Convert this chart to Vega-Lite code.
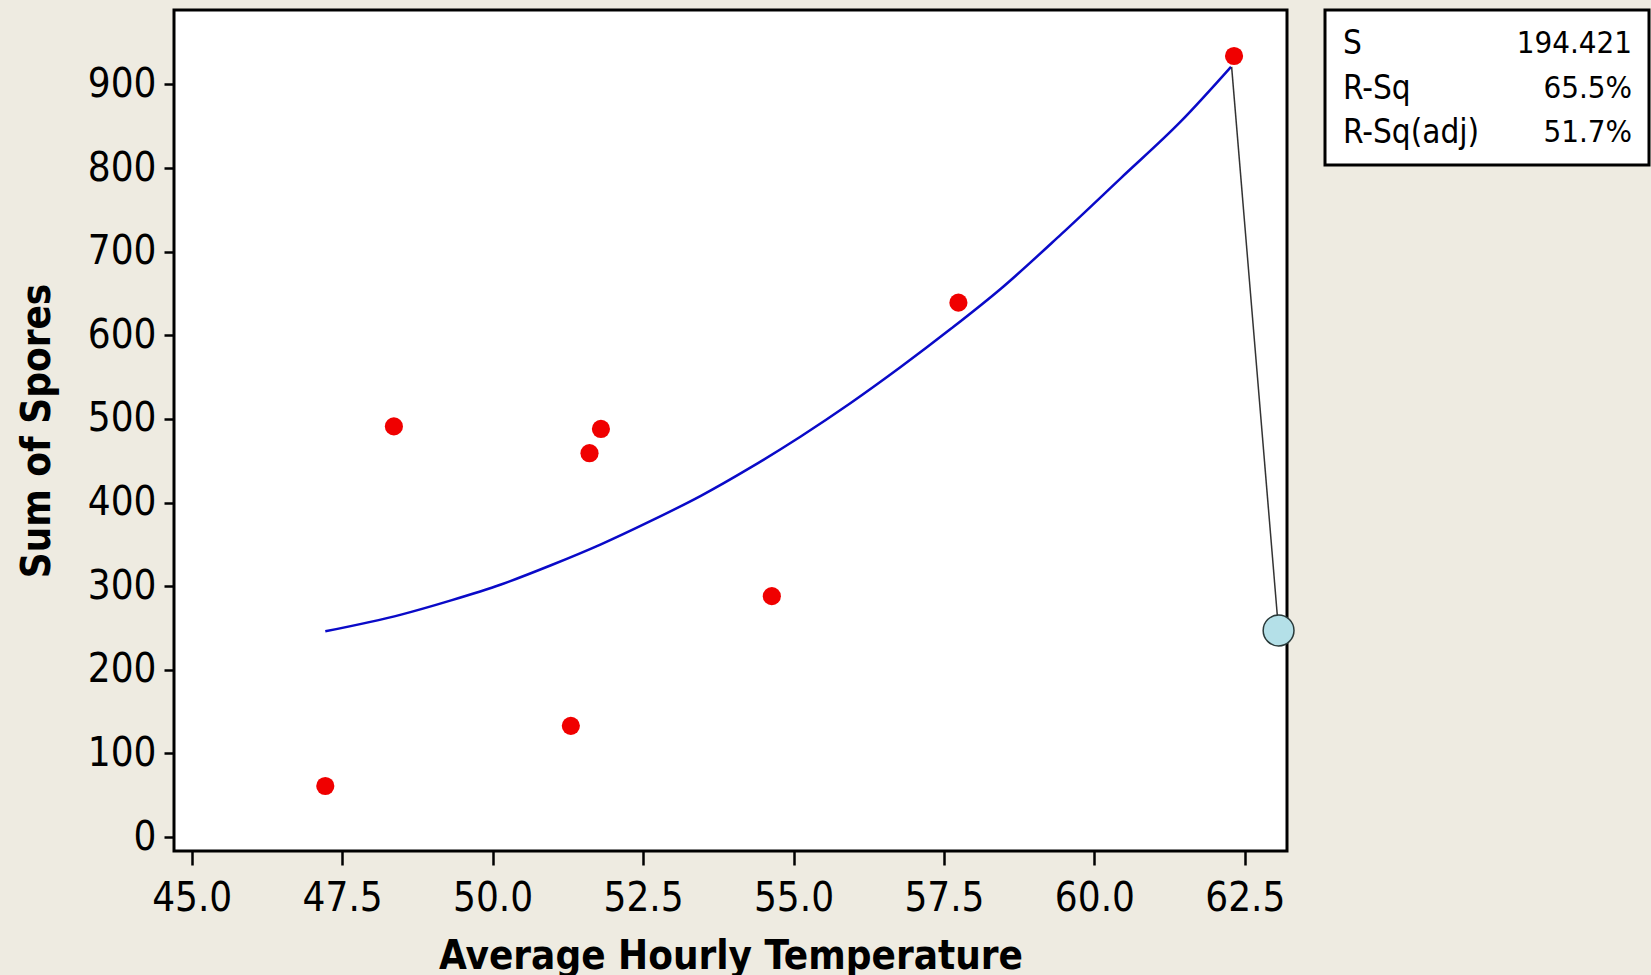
{
  "$schema": "https://vega.github.io/schema/vega-lite/v6.json",
  "background": "#eeebe1",
  "padding": {"left": 15, "top": 8, "right": 0, "bottom": 6},
  "spacing": 24,
  "config": {
    "view": {"fill": "white", "stroke": "black", "strokeWidth": 3},
    "font": "'DejaVu Sans Condensed', 'Liberation Sans Narrow', 'Liberation Sans', sans-serif"
  },
  "datasets": {
    "obs": [
      {"temp": 47.22, "spores": 61},
      {"temp": 48.36, "spores": 491},
      {"temp": 51.30, "spores": 133},
      {"temp": 51.61, "spores": 459},
      {"temp": 51.80, "spores": 488},
      {"temp": 54.64, "spores": 288},
      {"temp": 57.74, "spores": 639},
      {"temp": 62.32, "spores": 934}
    ],
    "fit": [
      {"temp": 47.22, "spores": 246},
      {"temp": 48.48, "spores": 266},
      {"temp": 49.31, "spores": 283},
      {"temp": 50.14, "spores": 302},
      {"temp": 50.97, "spores": 325},
      {"temp": 51.80, "spores": 350},
      {"temp": 52.63, "spores": 378},
      {"temp": 53.46, "spores": 408},
      {"temp": 54.29, "spores": 442},
      {"temp": 55.12, "spores": 479},
      {"temp": 55.95, "spores": 519},
      {"temp": 56.78, "spores": 562},
      {"temp": 57.62, "spores": 608},
      {"temp": 58.45, "spores": 656},
      {"temp": 59.45, "spores": 721},
      {"temp": 60.44, "spores": 788},
      {"temp": 61.44, "spores": 856},
      {"temp": 62.27, "spores": 921}
    ],
    "callout": [
      {"temp": 62.28, "spores": 921, "part": "leader"},
      {"temp": 63.06, "spores": 247, "part": "leader"}
    ],
    "marker": [
      {"temp": 63.06, "spores": 247}
    ],
    "stats": [
      {"stat": "S", "value": "194.421"},
      {"stat": "R-Sq", "value": "65.5%"},
      {"stat": "R-Sq(adj)", "value": "51.7%"}
    ]
  },
  "hconcat": [
    {
      "width": 1113,
      "height": 841,
      "encoding": {
        "x": {
          "field": "temp", "type": "quantitative",
          "scale": {"domain": [44.706, 63.2], "nice": false, "zero": false},
          "axis": {
            "title": "Average Hourly Temperature",
            "values": [45, 47.5, 50, 52.5, 55, 57.5, 60, 62.5],
            "format": ".1f",
            "domain": false, "grid": false,
            "tickSize": 14, "tickWidth": 2.5, "tickColor": "black",
            "labelFontSize": 40, "labelColor": "black", "labelPadding": 13,
            "titleFontSize": 40, "titleFontWeight": "bold", "titleColor": "black", "titlePadding": 18
          }
        },
        "y": {
          "field": "spores", "type": "quantitative",
          "scale": {"domain": [-16.7, 989], "nice": false, "zero": false},
          "axis": {
            "title": "Sum of Spores",
            "values": [0, 100, 200, 300, 400, 500, 600, 700, 800, 900],
            "domain": false, "grid": false,
            "tickSize": 10, "tickWidth": 2.5, "tickColor": "black",
            "labelFontSize": 40, "labelColor": "black", "labelPadding": 8,
            "titleFontSize": 40, "titleFontWeight": "bold", "titleColor": "black", "titlePadding": 30
          }
        }
      },
      "layer": [
        {
          "data": {"name": "fit"},
          "mark": {"type": "line", "color": "#0a0ac8", "strokeWidth": 2.5, "interpolate": "monotone"}
        },
        {
          "data": {"name": "callout"},
          "mark": {"type": "line", "color": "#333333", "strokeWidth": 1.5},
          "encoding": {"detail": {"field": "part"}}
        },
        {
          "data": {"name": "marker"},
          "mark": {"type": "point", "shape": "circle", "filled": true, "size": 950, "fill": "#b4e0e8", "stroke": "#2a3a3a", "strokeWidth": 1.5, "opacity": 1}
        },
        {
          "data": {"name": "obs"},
          "mark": {"type": "point", "shape": "circle", "filled": true, "size": 330, "color": "#f00000", "opacity": 1}
        }
      ]
    },
    {
      "width": 324,
      "height": 155,
      "data": {"name": "stats"},
      "encoding": {
        "y": {"field": "stat", "type": "nominal", "sort": null, "scale": {"padding": 0.75}, "axis": null}
      },
      "layer": [
        {
          "mark": {"type": "text", "align": "left", "baseline": "middle", "fontSize": 33, "color": "black", "dx": 18, "dy": 1},
          "encoding": {
            "x": {"datum": 0, "type": "quantitative", "scale": {"domain": [0, 1]}, "axis": null},
            "text": {"field": "stat"}
          }
        },
        {
          "mark": {"type": "text", "align": "right", "baseline": "middle", "fontSize": 31, "color": "black", "dx": -17, "dy": 1},
          "encoding": {
            "x": {"datum": 1, "type": "quantitative"},
            "text": {"field": "value"}
          }
        }
      ]
    }
  ]
}
